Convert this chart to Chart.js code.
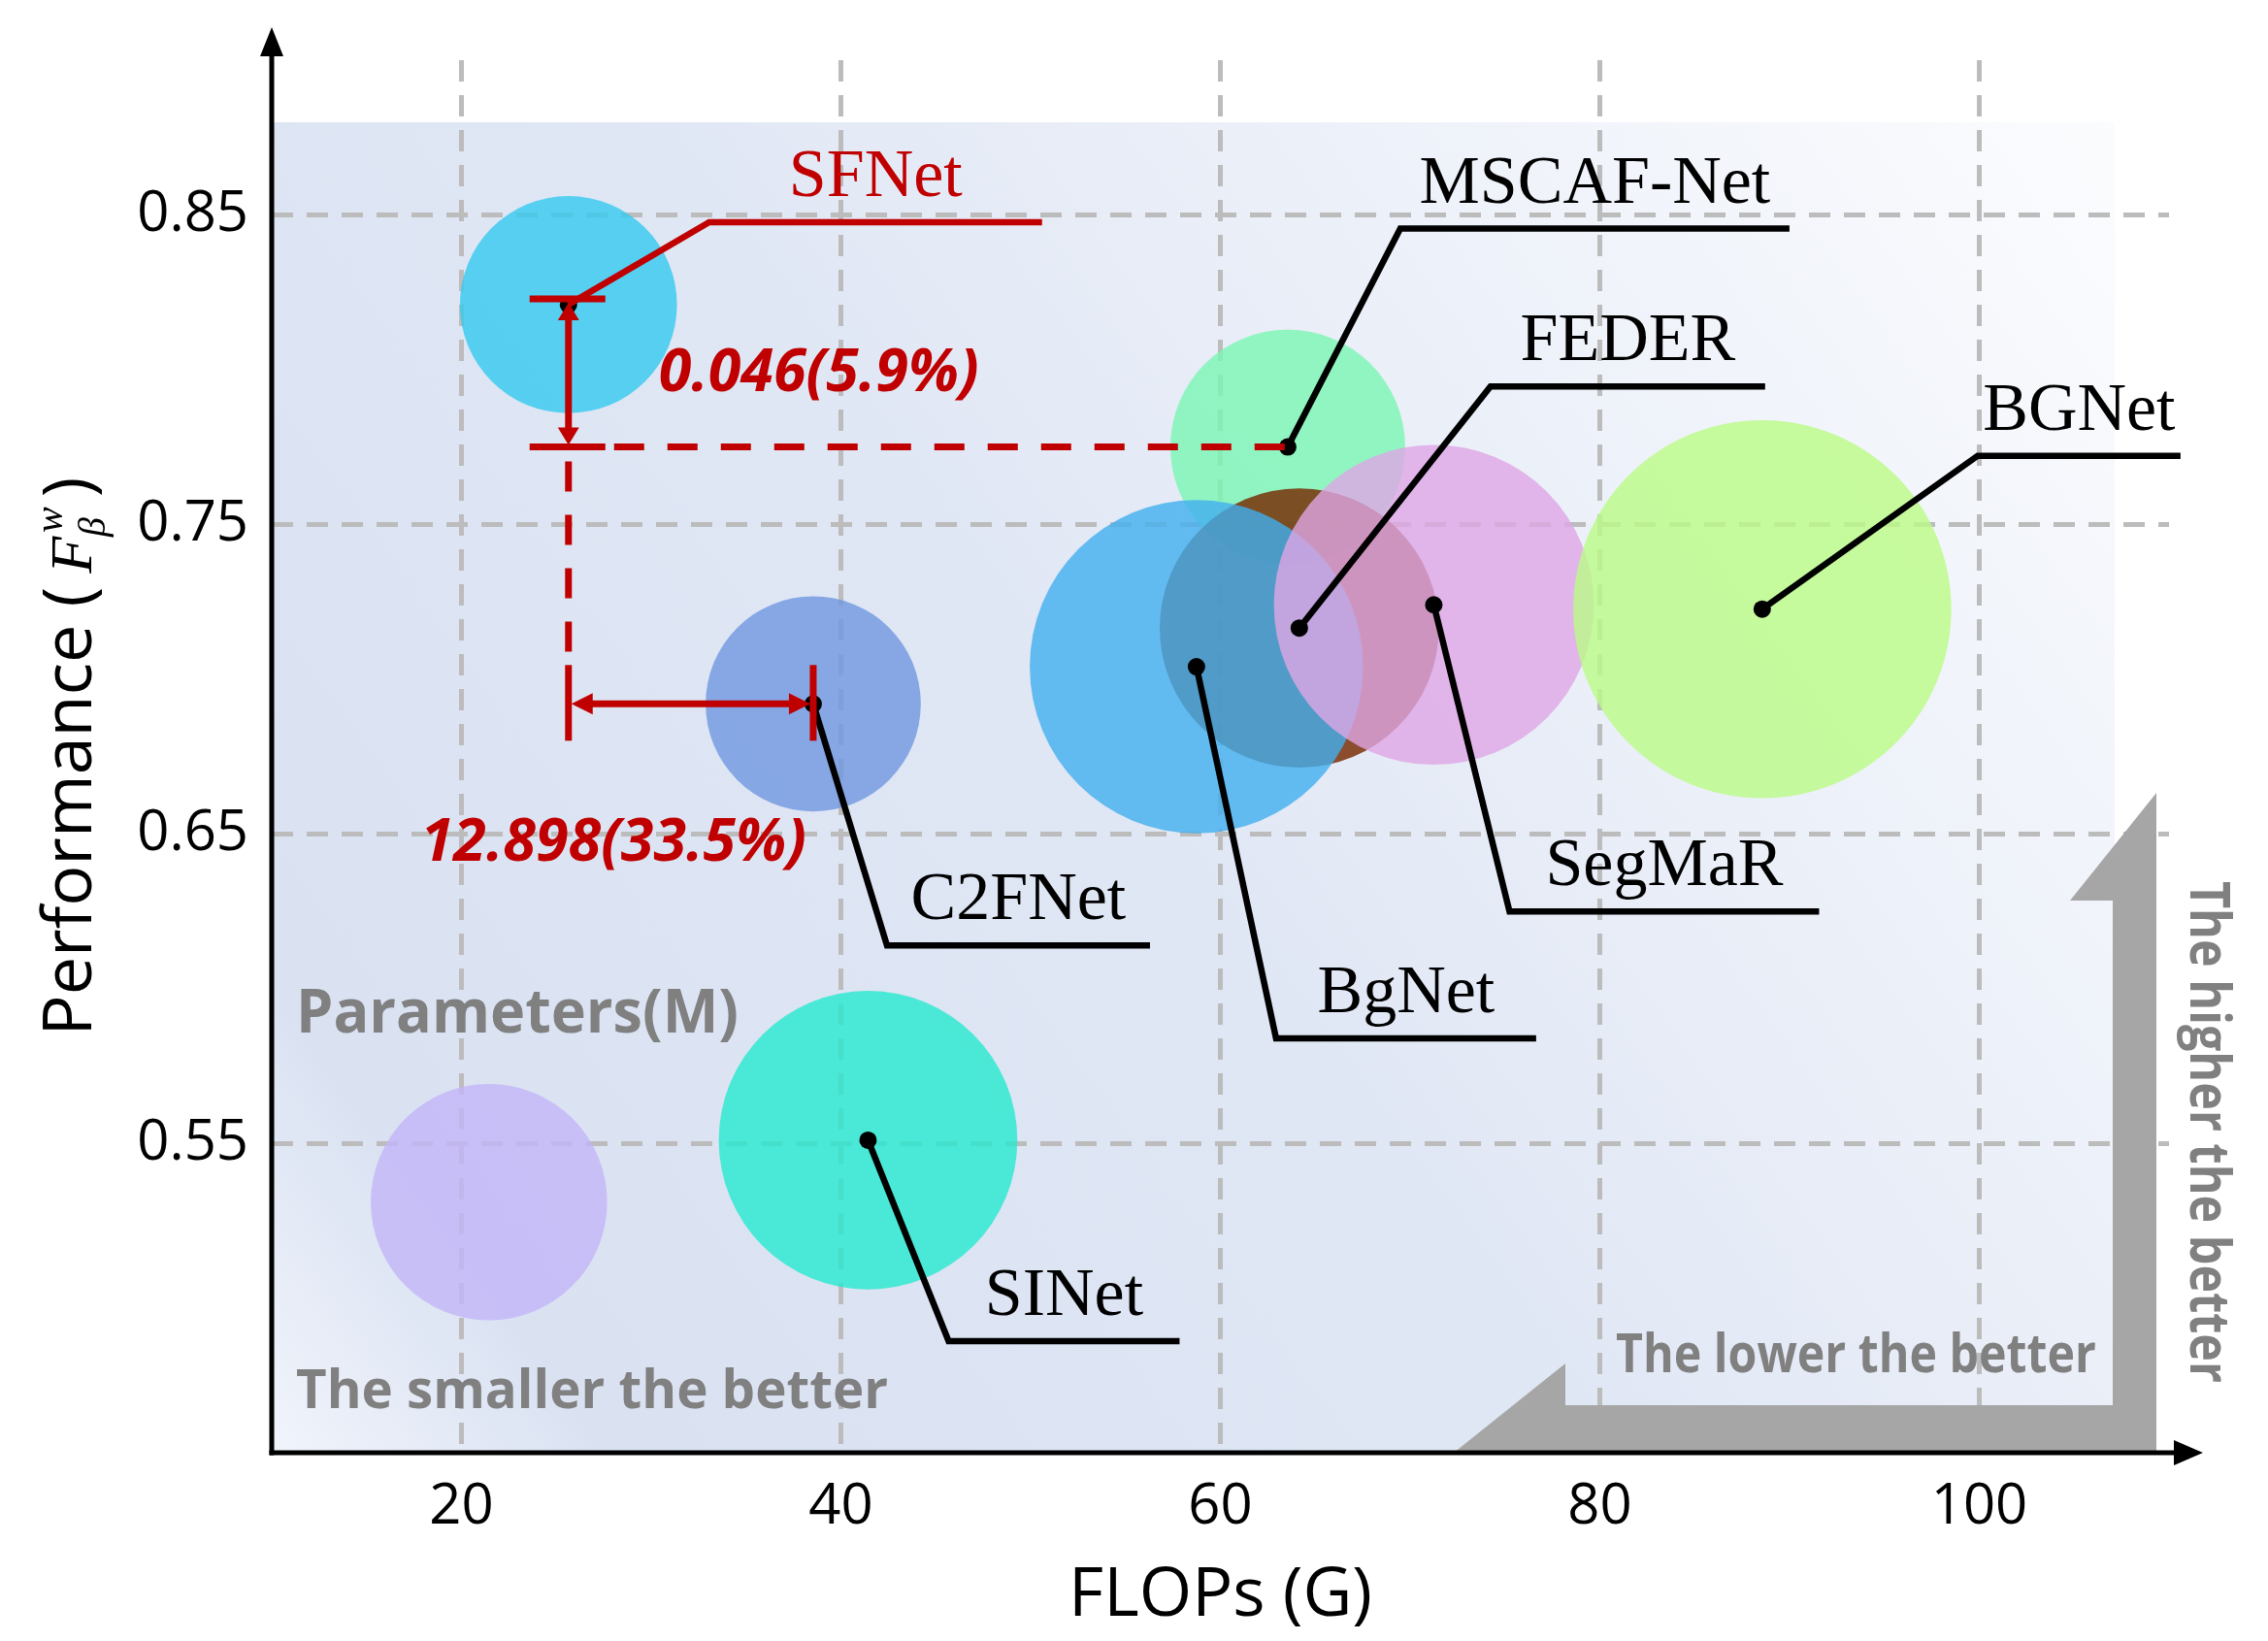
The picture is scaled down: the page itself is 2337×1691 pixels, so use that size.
<!DOCTYPE html>
<html>
<head>
<meta charset="utf-8">
<script src="https://cdn.jsdelivr.net/npm/chart.js@4.4.1/dist/chart.umd.min.js"></script>
<style>
html, body { margin: 0; padding: 0; background: #fff; }
</style>
</head>
<body>
<canvas id="bubble-chart" width="2337" height="1691"></canvas>
<script>
// models in drawing order (back to front); '' = the unlabelled size key bubble
let models = ['', 'SFNet', 'C2FNet', 'SINet', 'MSCAF-Net', 'FEDER', 'BgNet', 'SegMaR', 'BGNet'];
let flops  = [21.45, 25.64, 38.54, 41.43, 63.55, 64.16, 58.74, 71.25, 88.56];   // G
let fbw    = [0.531, 0.821, 0.692, 0.551, 0.775, 0.7165, 0.704, 0.724, 0.7226];  // F_beta^w
let params = [34.3, 28.9, 28.4, 54.7, 33.8, 47.8, 68.2, 62.8, 87.7];           // M
let xTicks = [20, 40, 60, 80, 100];
let yTicks = [0.55, 0.65, 0.75, 0.85];

// styles
let fills = ['rgba(195,181,248,0.8)', 'rgba(51,201,239,0.8)', 'rgba(111,151,224,0.8)', 'rgba(37,233,206,0.8)',
             'rgba(121,246,179,0.8)', 'rgba(118,42,0,0.82)', 'rgba(65,175,239,0.8)', 'rgba(222,166,229,0.8)',
             'rgba(186,251,134,0.8)'];
// leader line: elbow offset from the point (px) and length of the flat part
let leadDx  = [0, 145, 76, 83, 116, 197, 82, 78, 222];
let leadDy  = [0, -85, 249, 207, -225, -249, 383, 316, -158];
let leadLen = [0, 343, 271, 238, 401, 283, 268, 319, 209];

const RED = '#c00000';
const rOf = p => 20.8 * Math.sqrt(p);

function seg(ctx, x1, y1, x2, y2) {
  ctx.beginPath(); ctx.moveTo(x1, y1); ctx.lineTo(x2, y2); ctx.stroke();
}
function tri(ctx, tx, ty, dx, dy, len, half) {
  const bx = tx - dx * len, by = ty - dy * len;
  ctx.beginPath();
  ctx.moveTo(tx, ty);
  ctx.lineTo(bx - dy * half, by + dx * half);
  ctx.lineTo(bx + dy * half, by - dx * half);
  ctx.closePath(); ctx.fill();
}

const deco = {
  id: 'deco',
  beforeDraw(chart) {
    const ctx = chart.ctx, ca = chart.chartArea;
    const g = ctx.createLinearGradient(ca.left, ca.bottom, 2179, 126);
    g.addColorStop(0, '#f1f4fb');
    g.addColorStop(0.12, '#dae2f2');
    g.addColorStop(0.45, '#dfe6f4');
    g.addColorStop(1, '#fbfcfe');
    ctx.save();
    ctx.fillStyle = g;
    ctx.fillRect(ca.left, 126, 2179 - ca.left, ca.bottom - 126);
    ctx.restore();
  },
  beforeDatasetsDraw(chart) {
    const ctx = chart.ctx, B = chart.chartArea.bottom;
    ctx.save();
    // grey L-shaped arrow
    ctx.fillStyle = '#a6a6a6';
    ctx.beginPath();
    ctx.moveTo(1498, B); ctx.lineTo(2222, B); ctx.lineTo(2222, 817);
    ctx.lineTo(2133, 928); ctx.lineTo(2177, 928); ctx.lineTo(2177, B - 49);
    ctx.lineTo(1613, B - 49); ctx.lineTo(1613, B - 92);
    ctx.closePath(); ctx.fill();
    // grey hints
    ctx.fillStyle = '#808080';
    ctx.textBaseline = 'alphabetic';
    ctx.font = 'bold 62px "Open Sans"';
    ctx.fillText('Parameters(M)', 305, 1064, 456);
    ctx.font = 'bold 56px "Open Sans"';
    ctx.fillText('The smaller the better', 305, 1451, 610);
    ctx.fillText('The lower the better', 1665, 1414, 495);
    ctx.translate(2257, 908);
    ctx.rotate(Math.PI / 2);
    ctx.font = 'bold 57px "Open Sans"';
    ctx.fillText('The higher the better', 0, 0, 517);
    ctx.restore();
  },
  afterDraw(chart) {
    const ctx = chart.ctx, ca = chart.chartArea;
    const xs = chart.scales.x, ys = chart.scales.y;
    ctx.save();
    ctx.lineCap = 'butt';

    // leader lines and model names
    ctx.textAlign = 'center';
    ctx.textBaseline = 'alphabetic';
    ctx.font = '70px "Liberation Serif"';
    models.forEach((m, i) => {
      if (!m) return;
      const px = xs.getPixelForValue(flops[i]), py = ys.getPixelForValue(fbw[i]);
      const ex = px + leadDx[i], ey = py + leadDy[i];
      const col = m === 'SFNet' ? RED : '#000';
      ctx.strokeStyle = col; ctx.fillStyle = col; ctx.lineWidth = 6.5;
      ctx.beginPath(); ctx.moveTo(px, py); ctx.lineTo(ex, ey); ctx.lineTo(ex + leadLen[i], ey); ctx.stroke();
      ctx.fillText(m, ex + leadLen[i] / 2, ey - 27);
    });

    // red comparison marks
    const iS = models.indexOf('SFNet'), iM = models.indexOf('MSCAF-Net'), iC = models.indexOf('C2FNet');
    const sx = xs.getPixelForValue(flops[iS]), sy = ys.getPixelForValue(fbw[iS]);
    const mx = xs.getPixelForValue(flops[iM]), my = ys.getPixelForValue(fbw[iM]);
    const cx = xs.getPixelForValue(flops[iC]), cy = ys.getPixelForValue(fbw[iC]);
    ctx.strokeStyle = RED; ctx.fillStyle = RED; ctx.lineWidth = 7;
    seg(ctx, sx - 40, sy - 6, sx + 38, sy - 6);
    seg(ctx, sx - 40, my, sx + 38, my);
    ctx.setLineDash([31, 24]);
    seg(ctx, sx + 47, my, mx, my);
    seg(ctx, sx, my + 15, sx, cy - 40);
    ctx.setLineDash([]);
    seg(ctx, sx, sy + 10, sx, my - 14);
    tri(ctx, sx, sy - 2, 0, -1, 18, 11);
    tri(ctx, sx, my - 2, 0, 1, 18, 11);
    seg(ctx, sx, cy - 40, sx, cy + 38);
    seg(ctx, cx, cy - 40, cx, cy + 38);
    seg(ctx, sx + 12, cy, cx - 12, cy);
    tri(ctx, sx + 3, cy, -1, 0, 22, 11);
    tri(ctx, cx - 3, cy, 1, 0, 22, 11);
    ctx.textAlign = 'left';
    ctx.font = 'italic bold 61px "Open Sans"';
    ctx.fillText('0.046(5.9%)', sx + 93, sy + 89);
    ctx.fillText('12.898(33.5%)', sx - 152, cy + 162);

    // axes with arrow heads
    ctx.strokeStyle = '#000'; ctx.fillStyle = '#000'; ctx.lineWidth = 5;
    seg(ctx, ca.left, ca.bottom + 2.5, ca.left, 50);
    tri(ctx, ca.left, 28, 0, -1, 30, 12);
    seg(ctx, ca.left - 2.5, ca.bottom, 2245, ca.bottom);
    tri(ctx, 2270, ca.bottom, 1, 0, 30, 13);

    // y axis title: Performance ( F^w_beta )
    const f1 = '70px "Open Sans"', fF = 'italic 62px "Liberation Serif"', fs = 'italic 40px "Liberation Serif"';
    ctx.font = f1; const w1 = ctx.measureText('Performance (').width;
    ctx.font = fF; const wF = ctx.measureText('F').width;
    ctx.font = fs; const ws = Math.max(ctx.measureText('w').width, ctx.measureText('β').width);
    ctx.font = f1; const wp = ctx.measureText(')').width;
    const total = w1 + 14 + wF + 4 + ws + 10 + wp;
    const mid = (ca.top + ca.bottom) / 2;
    ctx.translate(94, mid + total / 2);
    ctx.rotate(-Math.PI / 2);
    ctx.textAlign = 'left';
    let x = 0;
    ctx.font = f1; ctx.fillText('Performance (', x, 0); x += w1 + 14;
    ctx.font = fF; ctx.fillText('F', x, 0); x += wF + 4;
    ctx.font = fs; ctx.fillText('w', x, -30); ctx.fillText('β', x - 4, 14); x += ws + 10;
    ctx.font = f1; ctx.fillText(')', x, 0);
    ctx.restore();
  }
};

const bubbleData = models.map((m, i) => ({ x: flops[i], y: fbw[i], r: rOf(params[i]) }));
const dotData = models.map((m, i) => ({ x: flops[i], y: fbw[i] })).filter((d, i) => models[i]);

new Chart(document.getElementById('bubble-chart'), {
  type: 'bubble',
  data: {
    datasets: [
      { data: bubbleData, backgroundColor: fills, borderWidth: 0, order: 2 },
      { type: 'scatter', data: dotData, backgroundColor: '#000', pointRadius: 9, borderWidth: 0, order: 1 }
    ]
  },
  options: {
    responsive: false,
    animation: false,
    devicePixelRatio: 1,
    layout: { autoPadding: false, padding: { top: 62, right: 102, left: 0, bottom: 0 } },
    plugins: { legend: { display: false }, tooltip: { enabled: false } },
    scales: {
      x: {
        type: 'linear', min: 10, max: 110,
        afterBuildTicks: s => { s.ticks = xTicks.map(v => ({ value: v })); },
        afterFit: s => { s.height = 194; },
        ticks: { color: '#000', font: { family: 'Open Sans', size: 58 }, padding: 22, callback: v => String(v) },
        grid: { color: '#bcbcbc', lineWidth: 5, drawTicks: false, borderDash: [22, 14] },
        border: { display: false, dash: [22, 14] },
        title: { display: true, text: 'FLOPs (G)', color: '#000', font: { family: 'Open Sans', size: 70 }, padding: { top: 0, bottom: 4 } }
      },
      y: {
        type: 'linear', min: 0.45, max: 0.90,
        afterBuildTicks: s => { s.ticks = yTicks.map(v => ({ value: v })); },
        afterFit: s => { s.width = 280; },
        ticks: { color: '#000', font: { family: 'Open Sans', size: 58 }, padding: 24, callback: v => v.toFixed(2) },
        grid: { color: '#bcbcbc', lineWidth: 5, drawTicks: false, borderDash: [22, 14] },
        border: { display: false, dash: [22, 14] }
      }
    }
  },
  plugins: [deco]
});
</script>
</body>
</html>
